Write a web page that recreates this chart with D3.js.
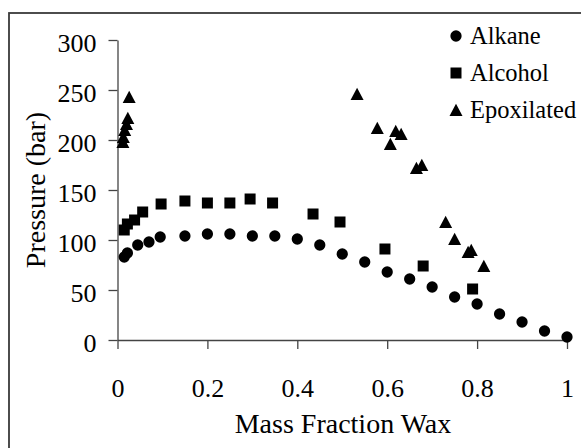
<!DOCTYPE html>
<html>
<head>
<meta charset="utf-8">
<script src="https://cdn.jsdelivr.net/npm/d3@7"></script>
<style>
  html, body { margin: 0; padding: 0; background: #fff; }
  svg { display: block; }
</style>
</head>
<body>
<div id="chart"></div>
<script>
// Pressure vs mass fraction wax, three wax types

const alkaneX = [0.015, 0.022, 0.045, 0.07, 0.095, 0.15, 0.2, 0.25, 0.3, 0.35, 0.4, 0.45,
  0.5, 0.55, 0.6, 0.65, 0.7, 0.75, 0.8, 0.85, 0.9, 0.95, 1.0];
const alkaneY = [83, 87, 95, 98, 103, 104, 106, 106, 104, 104, 101, 95,
  86, 78, 68, 61, 53, 43, 36, 26, 18, 9, 3];

const alcoholX = [0.015, 0.022, 0.038, 0.056, 0.097, 0.15, 0.2, 0.25, 0.295, 0.345, 0.435,
  0.495, 0.595, 0.68, 0.79];
const alcoholY = [110, 116, 120, 128, 136, 139, 137, 137, 141, 137, 126,
  118, 91, 74, 51];

const epoxX = [0.012, 0.013, 0.016, 0.02, 0.023, 0.026, 0.533, 0.578, 0.607, 0.619, 0.631,
  0.665, 0.677, 0.73, 0.75, 0.78, 0.787, 0.815];
const epoxY = [198, 203, 210, 216, 222, 243, 246, 212, 196, 209, 206,
  172, 175, 118, 101, 88, 90, 74];

const xTicks = [0, 0.2, 0.4, 0.6, 0.8, 1];
const yTicks = [0, 50, 100, 150, 200, 250, 300];

const seriesNames = ["Alkane", "Alcohol", "Epoxilated"];
const seriesShapes = ["circle", "square", "triangle"];

const width = 581, height = 448;
const serif = "'Liberation Serif', serif";

const svg = d3.select("#chart").append("svg")
  .attr("width", width)
  .attr("height", height)
  .style("font-family", serif);

// outer frame (runs off the right/bottom edge)
svg.append("rect")
  .attr("x", 9).attr("y", 13)
  .attr("width", 600).attr("height", 460)
  .attr("fill", "none")
  .attr("stroke", "#3a3a3a")
  .attr("stroke-width", 1.8);

const x = d3.scaleLinear().domain([0, 1]).range([117.5, 567]);
const y = d3.scaleLinear().domain([0, 300]).range([340, 40]);

const axisColor = "#444";

// x axis
const xAxisG = svg.append("g")
  .attr("transform", `translate(0,${y(0)})`)
  .call(d3.axisBottom(x).tickValues(xTicks).tickSize(9).tickSizeOuter(0)
    .tickFormat(d => d3.format("")(d)));
xAxisG.attr("font-family", null);
xAxisG.select(".domain").attr("stroke", axisColor).attr("stroke-width", 1.3);
xAxisG.selectAll(".tick line").attr("stroke", axisColor).attr("stroke-width", 1.3);
xAxisG.selectAll(".tick text")
  .attr("y", 57)
  .attr("dy", 0)
  .style("font-size", "26px")
  .style("font-family", serif)
  .attr("fill", "#000");

// y axis
const yAxisG = svg.append("g")
  .attr("transform", `translate(${x(0)},0)`)
  .call(d3.axisLeft(y).tickValues(yTicks).tickSize(9).tickSizeOuter(0));
yAxisG.attr("font-family", null);
yAxisG.select(".domain").attr("stroke", axisColor).attr("stroke-width", 1.3);
yAxisG.selectAll(".tick line").attr("stroke", axisColor).attr("stroke-width", 1.3);
yAxisG.selectAll(".tick text")
  .attr("x", -21)
  .attr("dy", "0.46em")
  .style("font-size", "26px")
  .style("font-family", serif)
  .attr("fill", "#000");

// axis titles
svg.append("text")
  .attr("x", 343)
  .attr("y", 433)
  .attr("text-anchor", "middle")
  .style("font-family", serif)
  .style("font-size", "28px")
  .text("Mass Fraction Wax");

svg.append("text")
  .attr("transform", `translate(45,${(y(0) + y(300)) / 2}) rotate(-90)`)
  .attr("text-anchor", "middle")
  .style("font-family", serif)
  .style("font-size", "28px")
  .text("Pressure (bar)");

// marker shapes
function markerPath(shape) {
  if (shape === "circle") return d3.symbol(d3.symbolCircle, 100)();
  if (shape === "square") return "M-5.5,-5.5H5.5V5.5H-5.5Z";
  return "M0,-6.3L6.5,6L-6.5,6Z";
}

const series = [
  { xs: alkaneX, ys: alkaneY },
  { xs: alcoholX, ys: alcoholY },
  { xs: epoxX, ys: epoxY }
];

series.forEach((s, i) => {
  const pts = s.xs.map((v, j) => [v, s.ys[j]]);
  svg.append("g")
    .selectAll("path")
    .data(pts)
    .join("path")
    .attr("transform", d => `translate(${x(d[0])},${y(d[1])})`)
    .attr("d", markerPath(seriesShapes[i]))
    .attr("fill", "#000");
});

// legend
const legend = svg.append("g").attr("transform", "translate(456,36)");
const li = legend.selectAll("g")
  .data(seriesNames)
  .join("g")
  .attr("transform", (d, i) => `translate(0,${i * 37})`);
li.append("path")
  .attr("d", (d, i) => markerPath(seriesShapes[i]))
  .attr("fill", "#000");
li.append("text")
  .attr("x", 14)
  .attr("y", 8)
  .style("font-family", serif)
  .style("font-size", "24.5px")
  .text(d => d);
</script>
</body>
</html>
